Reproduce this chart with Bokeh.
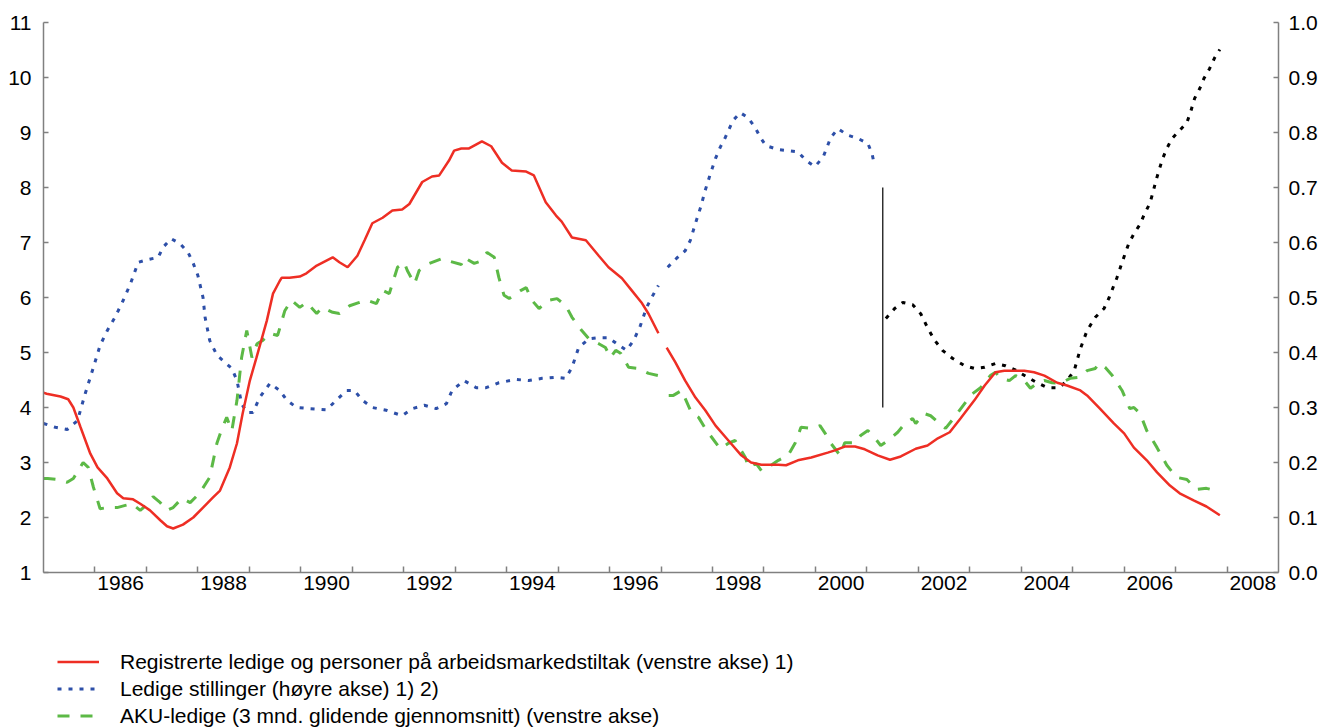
from bokeh.plotting import figure
from bokeh.layouts import column
from bokeh.models import (Range1d, LinearAxis, FixedTicker, CustomJSTickFormatter,
                          NumeralTickFormatter, Legend, LegendItem)
from bokeh.embed import file_html
from bokeh.resources import INLINE

nan = float("nan")

# Registrerte ledige og personer på arbeidsmarkedstiltak (venstre akse)
red_x = [1985.00, 1985.06, 1985.33, 1985.48, 1985.58, 1985.72, 1985.91, 1986.05, 1986.24, 1986.43,
         1986.55, 1986.74, 1986.88, 1987.07, 1987.27, 1987.40, 1987.52, 1987.71, 1987.91, 1988.10,
         1988.29, 1988.43, 1988.62, 1988.76, 1988.87, 1989.01, 1989.14, 1989.34, 1989.46, 1989.59,
         1989.63, 1989.78, 1989.98, 1990.11, 1990.31, 1990.62, 1990.75, 1990.91, 1991.10, 1991.24,
         1991.39, 1991.59, 1991.78, 1991.97, 1992.11, 1992.36, 1992.55, 1992.69, 1992.88, 1992.98,
         1993.12, 1993.27, 1993.52, 1993.70, 1993.91, 1994.10, 1994.38, 1994.53, 1994.76, 1994.96,
         1995.07, 1995.27, 1995.54, 1995.79, 1995.98, 1996.24, 1996.43, 1996.62, 1996.76, 1996.95,
         1997.03,
         1997.11, 1997.28, 1997.47, 1997.67, 1997.86, 1998.06, 1998.31, 1998.56, 1998.75, 1998.95,
         1999.28, 1999.43, 1999.66, 1999.92, 2000.24, 2000.38, 2000.57, 2000.77, 2000.96, 2001.21,
         2001.45, 2001.66, 2001.95, 2002.18, 2002.38, 2002.61, 2002.82, 2003.09, 2003.29, 2003.50,
         2003.67, 2004.06, 2004.25, 2004.45, 2004.70, 2004.89, 2005.15, 2005.28, 2005.53, 2005.80,
         2006.00, 2006.19, 2006.44, 2006.64, 2006.89, 2007.08, 2007.35, 2007.60, 2007.86]
red_y = [4.27, 4.25, 4.20, 4.15, 4.00, 3.64, 3.16, 2.91, 2.71, 2.44,
         2.35, 2.33, 2.25, 2.13, 1.95, 1.84, 1.80, 1.87, 2.00, 2.18,
         2.36, 2.49, 2.91, 3.35, 3.89, 4.49, 4.91, 5.58, 6.07, 6.30,
         6.36, 6.36, 6.38, 6.44, 6.58, 6.73, 6.64, 6.55, 6.76, 7.04,
         7.35, 7.45, 7.58, 7.60, 7.70, 8.10, 8.20, 8.22, 8.49, 8.67,
         8.71, 8.71, 8.84, 8.75, 8.45, 8.31, 8.29, 8.22, 7.73, 7.49,
         7.38, 7.09, 7.04, 6.76, 6.55, 6.35, 6.13, 5.91, 5.70, 5.35,
         nan,
         5.09, 4.82, 4.49, 4.18, 3.95, 3.67, 3.40, 3.13, 3.00, 2.96,
         2.96, 2.95, 3.04, 3.09, 3.18, 3.22, 3.29, 3.29, 3.24, 3.13,
         3.05, 3.11, 3.25, 3.31, 3.44, 3.55, 3.80, 4.13, 4.40, 4.64,
         4.67, 4.67, 4.64, 4.58, 4.45, 4.40, 4.31, 4.22, 3.98, 3.71,
         3.53, 3.27, 3.04, 2.82, 2.58, 2.44, 2.31, 2.20, 2.04]

# AKU-ledige (3 mnd. glidende gjennomsnitt) (venstre akse)
aku_x = [1985.00, 1985.08, 1985.27, 1985.46, 1985.58, 1985.77, 1985.87, 1985.97, 1986.10, 1986.24,
         1986.43, 1986.59, 1986.72, 1986.88, 1987.03, 1987.13, 1987.27, 1987.40, 1987.52, 1987.69,
         1987.85, 1988.04, 1988.23, 1988.37, 1988.47, 1988.56, 1988.66, 1988.76, 1988.85, 1988.95,
         1989.05, 1989.15, 1989.26, 1989.40, 1989.55, 1989.69, 1989.82, 1989.98, 1990.11, 1990.31,
         1990.42, 1990.62, 1990.75, 1990.95, 1991.14, 1991.28, 1991.47, 1991.59, 1991.72, 1991.88,
         1992.01, 1992.07, 1992.21, 1992.30, 1992.50, 1992.75, 1992.85, 1993.12, 1993.17, 1993.37,
         1993.46, 1993.62, 1993.76, 1993.85, 1993.95, 1994.05, 1994.28, 1994.38, 1994.49, 1994.63,
         1994.82, 1994.98, 1995.15, 1995.27, 1995.46, 1995.60, 1995.79, 1995.92, 1996.02, 1996.12,
         1996.22, 1996.37, 1996.56, 1996.76, 1996.95,
         1997.05,
         1997.15, 1997.24, 1997.40, 1997.59, 1997.73, 1997.86, 1997.96, 1998.15, 1998.31, 1998.44,
         1998.64, 1998.70, 1998.85, 1998.95, 1999.14, 1999.28, 1999.47, 1999.61, 1999.72, 1999.92,
         2000.09, 2000.19, 2000.30, 2000.48, 2000.57, 2000.77, 2000.88, 2001.02, 2001.15, 2001.27,
         2001.41, 2001.60, 2001.74, 2001.89, 2001.95, 2002.12, 2002.24, 2002.41, 2002.53, 2002.70,
         2002.90, 2003.01, 2003.21, 2003.40, 2003.50, 2003.60, 2003.77, 2003.89, 2004.06, 2004.18,
         2004.31, 2004.45, 2004.60, 2004.76, 2004.95, 2005.13, 2005.28, 2005.44, 2005.51, 2005.63,
         2005.77, 2005.96, 2006.11, 2006.19, 2006.31, 2006.44, 2006.64, 2006.83, 2007.02, 2007.22,
         2007.41, 2007.60, 2007.86]
aku_y = [2.71, 2.71, 2.69, 2.64, 2.71, 3.00, 2.91, 2.55, 2.16, 2.18,
         2.18, 2.22, 2.25, 2.13, 2.25, 2.38, 2.27, 2.13, 2.18, 2.35,
         2.27, 2.45, 2.73, 3.35, 3.62, 3.82, 3.58, 4.13, 4.91, 5.40,
         4.91, 5.16, 5.22, 5.35, 5.31, 5.76, 5.95, 5.82, 5.91, 5.71,
         5.82, 5.73, 5.71, 5.85, 5.91, 5.95, 5.89, 6.13, 6.07, 6.55,
         6.64, 6.49, 6.25, 6.49, 6.62, 6.71, 6.67, 6.60, 6.73, 6.62,
         6.65, 6.82, 6.73, 6.36, 6.04, 5.98, 6.13, 6.18, 5.95, 5.80,
         5.95, 5.98, 5.85, 5.64, 5.40, 5.25, 5.16, 5.09, 4.91, 5.04,
         4.98, 4.73, 4.71, 4.62, 4.58,
         nan,
         4.22, 4.22, 4.31, 3.91, 3.82, 3.62, 3.49, 3.25, 3.35, 3.40,
         3.09, 2.91, 2.98, 2.85, 2.95, 3.04, 3.13, 3.36, 3.64, 3.62,
         3.67, 3.53, 3.35, 3.13, 3.36, 3.36, 3.49, 3.58, 3.45, 3.31,
         3.40, 3.55, 3.71, 3.80, 3.71, 3.89, 3.85, 3.71, 3.62, 3.82,
         4.07, 4.22, 4.36, 4.58, 4.64, 4.53, 4.49, 4.58, 4.49, 4.35,
         4.44, 4.49, 4.45, 4.44, 4.53, 4.55, 4.67, 4.71, 4.80, 4.73,
         4.58, 4.31, 3.98, 4.00, 3.89, 3.58, 3.27, 2.95, 2.73, 2.69,
         2.51, 2.53, 2.47]

# Ledige stillinger (høyre akse), old series
vac_x = [1985.00, 1985.23, 1985.46, 1985.66, 1985.81, 1985.97, 1986.10, 1986.24, 1986.39, 1986.55,
         1986.69, 1986.84, 1987.03, 1987.23, 1987.32, 1987.48, 1987.65, 1987.81, 1987.91, 1988.00,
         1988.10, 1988.14, 1988.23, 1988.37, 1988.49, 1988.66, 1988.76, 1988.85, 1988.95, 1989.07,
         1989.20, 1989.40, 1989.59, 1989.73, 1989.92, 1990.17, 1990.50, 1990.69, 1990.89, 1991.04,
         1991.20, 1991.39, 1991.66, 1991.97, 1992.17, 1992.40, 1992.63, 1992.83, 1992.94, 1993.17,
         1993.41, 1993.60, 1993.85, 1994.18, 1994.43, 1994.69, 1994.96, 1995.15, 1995.27, 1995.40,
         1995.60, 1995.79, 1995.98, 1996.14, 1996.33, 1996.47, 1996.60, 1996.72, 1996.86, 1996.95,
         1997.04,
         1997.13, 1997.30, 1997.47, 1997.57, 1997.67, 1997.77, 1997.86, 1997.96, 1998.06, 1998.15,
         1998.25, 1998.40, 1998.54, 1998.69, 1998.83, 1998.93, 1999.04, 1999.28, 1999.47, 1999.66,
         1999.82, 1999.99, 2000.15, 2000.30, 2000.44, 2000.63, 2000.83, 2001.02, 2001.10, 2001.15]
vac_y = [0.271, 0.264, 0.260, 0.276, 0.325, 0.373, 0.413, 0.440, 0.464, 0.495,
         0.525, 0.564, 0.569, 0.573, 0.591, 0.607, 0.598, 0.582, 0.562, 0.540,
         0.500, 0.464, 0.422, 0.395, 0.385, 0.371, 0.349, 0.307, 0.291, 0.291,
         0.318, 0.344, 0.331, 0.313, 0.300, 0.298, 0.296, 0.313, 0.331, 0.331,
         0.313, 0.300, 0.295, 0.285, 0.298, 0.304, 0.298, 0.307, 0.331, 0.349,
         0.336, 0.336, 0.345, 0.351, 0.349, 0.353, 0.355, 0.353, 0.373, 0.409,
         0.425, 0.427, 0.427, 0.416, 0.404, 0.422, 0.449, 0.482, 0.507, 0.522,
         nan,
         0.555, 0.571, 0.585, 0.604, 0.635, 0.664, 0.695, 0.725, 0.753, 0.773,
         0.791, 0.822, 0.836, 0.827, 0.809, 0.791, 0.776, 0.769, 0.767, 0.765,
         0.749, 0.738, 0.755, 0.791, 0.807, 0.795, 0.789, 0.780, 0.762, 0.740]

# Ledige stillinger (høyre akse), new series after the break
vac2_x = [2001.37, 2001.54, 2001.70, 2001.89, 2002.05, 2002.18, 2002.32, 2002.47, 2002.67, 2002.90,
          2003.09, 2003.29, 2003.50, 2003.69, 2003.87, 2004.12, 2004.31, 2004.51, 2004.74, 2004.89,
          2005.03, 2005.15, 2005.28, 2005.44, 2005.61, 2005.71, 2005.80, 2005.86, 2005.94, 2006.02,
          2006.09, 2006.19, 2006.31, 2006.40, 2006.50, 2006.56, 2006.62, 2006.69, 2006.75, 2006.83,
          2006.93, 2007.08, 2007.22, 2007.30, 2007.37, 2007.47, 2007.55, 2007.66, 2007.76, 2007.86]
vac2_y = [0.462, 0.480, 0.491, 0.487, 0.470, 0.445, 0.422, 0.404, 0.389, 0.376,
          0.371, 0.373, 0.380, 0.376, 0.369, 0.355, 0.345, 0.336, 0.336, 0.349,
          0.367, 0.407, 0.440, 0.464, 0.480, 0.500, 0.522, 0.536, 0.558, 0.580,
          0.598, 0.616, 0.633, 0.653, 0.671, 0.691, 0.713, 0.735, 0.753, 0.771,
          0.789, 0.804, 0.818, 0.840, 0.862, 0.880, 0.898, 0.916, 0.936, 0.951]

# Series-break marker (høyre akse)
break_x = [2001.31]
break_y0 = [0.3]
break_y1 = [0.7]

year_ticks = list(range(1986, 2009))
label_years = list(range(1986, 2009, 2))
left_ticks = list(range(1, 12))
right_ticks = [i / 10 for i in range(0, 11)]

legend_labels = [
    "Registrerte ledige og personer på arbeidsmarkedstiltak (venstre akse) 1)",
    "Ledige stillinger (høyre akse) 1) 2)",
    "AKU-ledige (3 mnd. glidende gjennomsnitt) (venstre akse)",
]

RED = "#ee2e24"
BLUE = "#2d4fa8"
GREEN = "#5cb946"
AXIS = "#808080"
FONT = "Liberation Sans"
W = 1320

p = figure(width=W, height=600, output_backend="svg", toolbar_location=None,
           x_range=Range1d(1985, 2009), y_range=Range1d(1, 11),
           min_border_left=43, min_border_right=W - 43 - 1239, min_border_top=22,
           min_border_bottom=28)
p.extra_y_ranges = {"right": Range1d(0, 1)}
p.grid.visible = False
p.outline_line_color = None
p.background_fill_color = "white"
p.border_fill_color = "white"

# x axis: tick marks at year boundaries, labels centred in even years
xa = p.xaxis[0]
xa.ticker = FixedTicker(ticks=[y + 0.5 for y in label_years], minor_ticks=year_ticks)
xa.formatter = CustomJSTickFormatter(code="return String(Math.floor(tick));")
xa.major_tick_in = 0
xa.major_tick_out = 0
xa.minor_tick_in = 6
xa.minor_tick_out = 0
xa.minor_tick_line_color = AXIS
xa.minor_tick_line_width = 1.5
xa.major_label_standoff = 3

ya = p.yaxis[0]
ya.ticker = FixedTicker(ticks=left_ticks)
ya.major_tick_in = 5
ya.major_tick_out = 0
ya.minor_tick_in = 0
ya.minor_tick_out = 0
ya.major_label_standoff = 12

yr = LinearAxis(y_range_name="right", ticker=FixedTicker(ticks=right_ticks),
                formatter=NumeralTickFormatter(format="0.0"))
yr.major_tick_in = 5
yr.major_tick_out = 0
yr.minor_tick_in = 0
yr.minor_tick_out = 0
yr.major_label_standoff = 10
p.add_layout(yr, "right")

for ax in (xa, ya, yr):
    ax.axis_line_color = AXIS
    ax.axis_line_width = 1.5
    ax.major_tick_line_color = AXIS
    ax.major_tick_line_width = 1.5
    ax.major_label_text_font = FONT
    ax.major_label_text_font_size = "21px"
    ax.major_label_text_color = "black"

r_vac = p.line(vac_x, vac_y, y_range_name="right", line_color=BLUE, line_width=3,
               line_dash="4 7")
p.line(vac2_x, vac2_y, y_range_name="right", line_color="black", line_width=3,
       line_dash="4 7")
p.segment(x0=break_x, y0=break_y0, x1=break_x, y1=break_y1, y_range_name="right",
          line_color="black", line_width=1.2)
r_aku = p.line(aku_x, aku_y, line_color=GREEN, line_width=3, line_dash="12 11")
r_red = p.line(red_x, red_y, line_color=RED, line_width=2.5)

# Legend panel below the chart (own small figure, no axes)
q = figure(width=W, height=128, output_backend="svg", toolbar_location=None,
           x_range=Range1d(0, 1), y_range=Range1d(0, 1),
           x_axis_location=None, y_axis_location=None,
           min_border_left=0, min_border_right=0, min_border_top=0, min_border_bottom=0)
q.grid.visible = False
q.outline_line_color = None
q.background_fill_color = "white"
q.border_fill_color = "white"
# sample renderers for the legend keys (placed outside the visible range)
l_red = q.line([5, 6], [5, 6], line_color=RED, line_width=2.5)
l_vac = q.line([5, 6], [5, 6], line_color=BLUE, line_width=3, line_dash="4 7")
l_aku = q.line([5, 6], [5, 6], line_color=GREEN, line_width=3, line_dash="12 11")

legend = Legend(items=[LegendItem(label=legend_labels[0], renderers=[l_red]),
                       LegendItem(label=legend_labels[1], renderers=[l_vac]),
                       LegendItem(label=legend_labels[2], renderers=[l_aku])],
                location=(14, -1), orientation="vertical",
                padding=0, margin=0, spacing=0,
                glyph_width=42, glyph_height=27, label_height=27, label_standoff=21,
                label_text_font=FONT, label_text_font_size="21px", label_text_color="black",
                border_line_color=None, background_fill_alpha=0)
q.add_layout(legend, "center")

layout = column(p, q, spacing=0)
open("out.html", "w").write(file_html(layout, INLINE))
